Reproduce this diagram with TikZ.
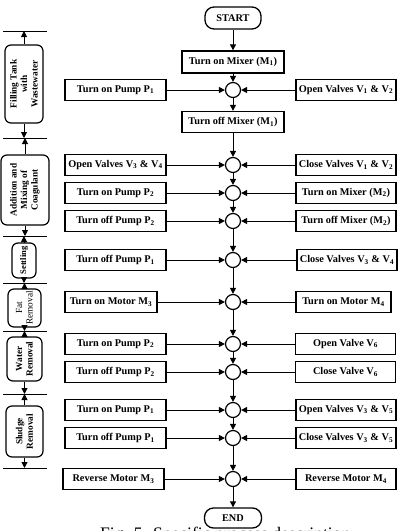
\documentclass[tikz,border=0pt]{standalone}
\usepackage{fontspec}
\setmainfont{Liberation Serif}
\usetikzlibrary{arrows.meta}
\begin{document}
\begin{tikzpicture}[x=1pt,y=-1pt,
 box/.style={draw,line width=1.3pt,minimum height=21pt,inner sep=0pt,font=\fontsize{10.3}{12}\selectfont\bfseries,fill=white},
 lbox/.style={box,minimum width=101pt},
 rbox/.style={box,minimum width=100pt},
 term/.style={box,rounded corners=9pt},
 junc/.style={circle,draw,line width=1.2pt,minimum size=15pt,inner sep=0pt},
 phase/.style={draw,line width=1.2pt,rounded corners=6pt,inner sep=0pt},
 ptext/.style={rotate=90,align=center,font=\fontsize{9.3}{10.5}\selectfont\bfseries},
 arr/.style={line width=1pt,-{Triangle[length=6pt,width=6pt]}},
 sepline/.style={line width=1pt}]
\useasboundingbox (0,0) rectangle (400,531);
% caption (mostly cut off, as in the reference)
\node[anchor=base west,inner sep=0pt,font=\fontsize{17.6}{20}\selectfont] (cap) at (100,539) {Fig. 5. Specific process description};
% central column
\def\cx{233}
\node[term,minimum width=56pt,minimum height=22pt] (start) at (\cx,18) {START};
\node[box,minimum width=102pt,minimum height=22pt] (m1on) at (\cx,62) {Turn on Mixer (M\textsubscript{1})};
\node[junc] (c1) at (\cx,90) {};
\node[box,minimum width=102pt] (m1off) at (\cx,122) {Turn off Mixer (M\textsubscript{1})};
\foreach \n/\y in {2/165,3/193,4/221,5/260,6/302,7/344,8/372,9/410,10/438,11/479}
  \node[junc] (c\n) at (\cx,\y) {};
\node[term,minimum width=57pt,minimum height=20pt] (end) at (\cx,518) {END};
% left boxes
\node[lbox] (l1) at (115.5,90) {Turn on Pump P\textsubscript{1}};
\node[lbox] (l2) at (115.5,165) {Open Valves V\textsubscript{3} \& V\textsubscript{4}};
\node[lbox] (l3) at (115.5,193) {Turn on Pump P\textsubscript{2}};
\node[lbox] (l4) at (115.5,221) {Turn off Pump P\textsubscript{2}};
\node[lbox] (l5) at (115.5,260) {Turn off Pump P\textsubscript{1}};
\node[box,minimum width=92pt] (l6) at (111,302) {Turn on Motor M\textsubscript{3}};
\node[lbox] (l7) at (115.5,344) {Turn on Pump P\textsubscript{2}};
\node[lbox] (l8) at (115.5,372) {Turn off Pump P\textsubscript{2}};
\node[lbox] (l9) at (115.5,410) {Turn on Pump P\textsubscript{1}};
\node[lbox] (l10) at (115.5,438) {Turn off Pump P\textsubscript{1}};
\node[lbox] (l11) at (113.5,479) {Reverse Motor M\textsubscript{3}};
% right boxes
\node[rbox] (r1) at (346,90) {Open Valves V\textsubscript{1} \& V\textsubscript{2}};
\node[rbox] (r2) at (346,165) {Close Valves V\textsubscript{1} \& V\textsubscript{2}};
\node[rbox] (r3) at (346,193) {Turn on Mixer (M\textsubscript{2})};
\node[rbox] (r4) at (346,221) {Turn off Mixer (M\textsubscript{2})};
\node[rbox] (r5) at (347,260) {Close Valves V\textsubscript{3} \& V\textsubscript{4}};
\node[box,minimum width=95pt] (r6) at (343.5,302) {Turn on Motor M\textsubscript{4}};
\node[rbox] (r7) at (345.5,344) {Open Valve V\textsubscript{6}};
\node[rbox] (r8) at (345.5,372) {Close Valve V\textsubscript{6}};
\node[rbox] (r9) at (346,410) {Open Valves V\textsubscript{3} \& V\textsubscript{5}};
\node[rbox] (r10) at (346,438) {Close Valves V\textsubscript{3} \& V\textsubscript{5}};
\node[rbox] (r11) at (346,479) {Reverse Motor M\textsubscript{4}};
% vertical connectors
\draw[arr] (start) -- (m1on);
\draw[arr] (m1on) -- (c1);
\draw[arr] (c1) -- (m1off);
\draw[arr] (m1off) -- (c2);
\foreach \a/\b in {2/3,3/4,4/5,5/6,6/7,7/8,8/9,9/10,10/11}
  \draw[arr] (c\a) -- (c\b);
\draw[arr] (c11) -- (end);
% horizontal connectors
\foreach \n in {1,...,11}{
  \draw[arr] (l\n.east) -- (c\n.west);
  \draw[arr] (r\n.west) -- (c\n.east);
}
% phase column
\foreach \n/\y in {0/31,1/138,2/236,3/283,4/331,5/394,6/468}{
  \coordinate (s\n) at (24.5,\y);
  \draw[sepline] ([xshift=-21.5pt]s\n) -- ([xshift=22.5pt]s\n);
}
\node[phase,minimum width=38pt,minimum height=78pt] (p1) at (24,84) {};
\node[ptext] (t1) at (p1) {Filling Tank\\with\\Wastewater};
\node[phase,minimum width=48pt,minimum height=70pt] (p2) at (25,190) {};
\node[ptext] (t2) at (p2) {Addition and\\Mixing of\\Coagulant};
\node[phase,minimum width=24pt,minimum height=35pt] (p3) at (24,260.5) {};
\node[ptext,font=\fontsize{8.6}{10}\selectfont\bfseries] (t3) at (p3) {Settling};
\node[phase,minimum width=33pt,minimum height=38pt] (p4) at (24.5,308) {};
\node[ptext,font=\fontsize{9.3}{10.5}\selectfont] (t4) at (p4) {Fat\\Removal};
\node[phase,minimum width=35pt,minimum height=44pt] (p5) at (24.5,359) {};
\node[ptext] (t5) at (p5) {Water\\Removal};
\node[phase,minimum width=37pt,minimum height=51pt] (p6) at (24.5,431.5) {};
\node[ptext] (t6) at (p6) {Sludge\\Removal};
\foreach \n/\a/\b in {1/0/1,2/1/2,3/2/3,4/3/4,5/4/5,6/5/6}{
  \draw[arr] (p\n.north) -- (p\n.north |- s\a);
  \draw[arr] (p\n.south) -- (p\n.south |- s\b);
}
\end{tikzpicture}
\end{document}
